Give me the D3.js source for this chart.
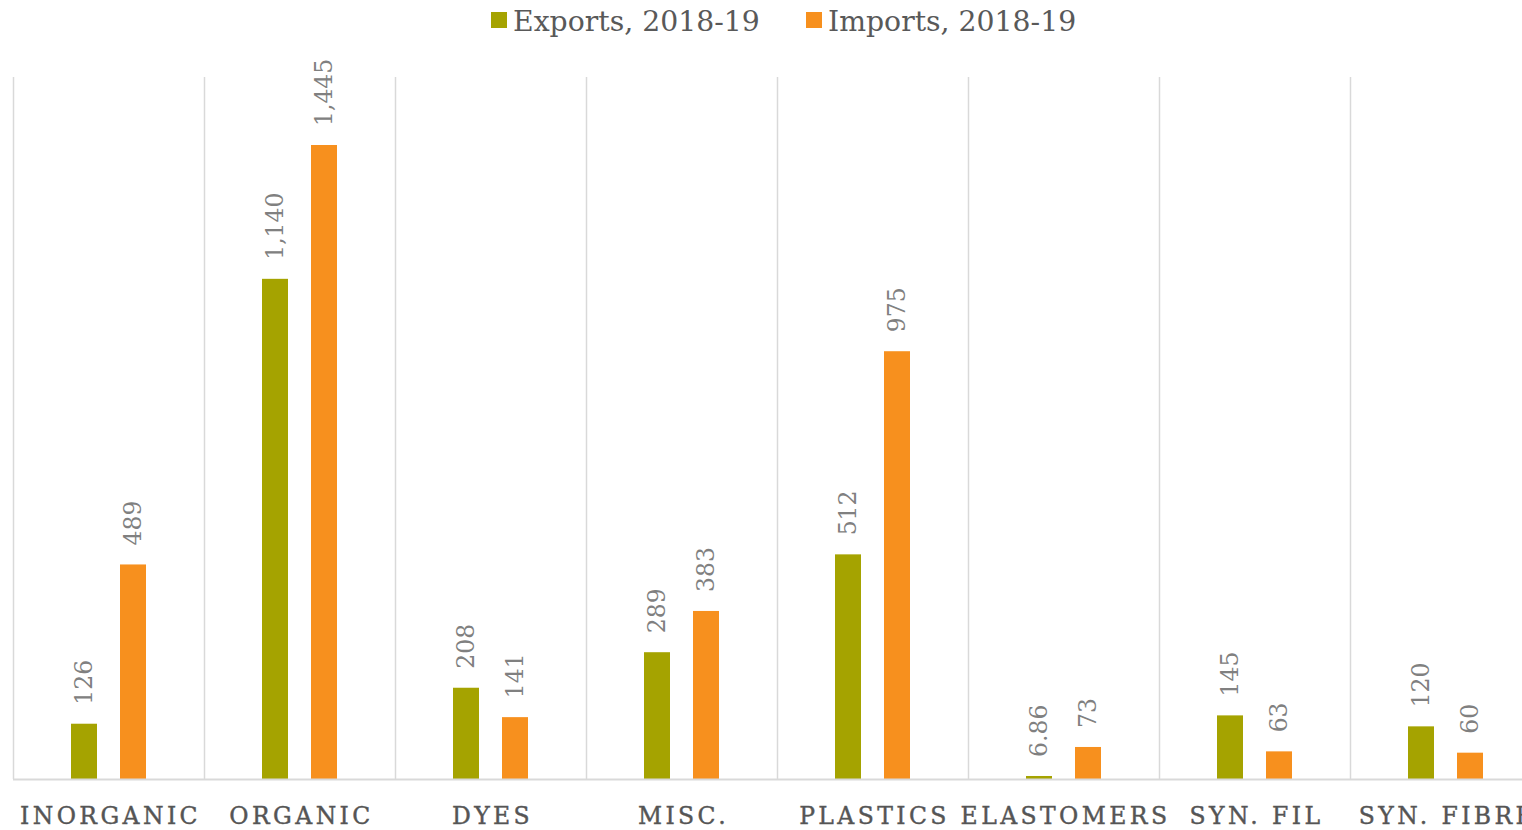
<!DOCTYPE html>
<html><head><meta charset="utf-8">
<script src="https://cdn.jsdelivr.net/npm/d3@7"></script>
<style>body{margin:0;background:#fff;overflow:hidden}svg{display:block}</style>
</head><body>
<svg id="c" width="1522" height="830"></svg>
<script>
const categories = ["INORGANIC","ORGANIC","DYES","MISC.","PLASTICS","ELASTOMERS","SYN. FIL","SYN. FIBRE"];
const seriesNames = ["Exports, 2018-19","Imports, 2018-19"];
const exportsVals = [126,1140,208,289,512,6.86,145,120];
const importsVals = [489,1445,141,383,975,73,63,60];
const exportLabels = ["126","1,140","208","289","512","6.86","145","120"];
const importLabels = ["489","1,445","141","383","975","73","63","60"];
const colors = ["#A5A300","#F7901E"];
const yMax = 1600;

const svg = d3.select("#c");
const font = "'DejaVu Serif', 'Liberation Serif', serif";
const x0 = d3.scaleBand().domain(categories).range([13, 13 + 8*191]).padding(0);
const x1 = d3.scaleBand().domain(seriesNames).range([58, 133]).paddingInner(0.4694).paddingOuter(0);
const y = d3.scaleLinear().domain([0, yMax]).range([779, 77]);

// vertical gridlines at category boundaries
svg.append("g").selectAll("line").data(categories.concat(["_end"])).join("line")
  .attr("x1",(d,i)=>13+i*x0.step()+0.5).attr("x2",(d,i)=>13+i*x0.step()+0.5)
  .attr("y1",y(yMax)).attr("y2",y(0))
  .attr("stroke","#D9D9D9").attr("stroke-width",1.5);

const seriesData = [exportsVals, importsVals];
const seriesLabels = [exportLabels, importLabels];
seriesNames.forEach((s, si) => {
  const g = svg.append("g");
  g.selectAll("rect").data(categories).join("rect")
    .attr("x", d => x0(d) + x1(s))
    .attr("width", x1.bandwidth())
    .attr("y", (d,i) => y(seriesData[si][i]))
    .attr("height", (d,i) => y(0) - y(seriesData[si][i]))
    .attr("fill", colors[si]);
  g.selectAll("text").data(categories).join("text")
    .attr("transform", (d,i) => `translate(${x0(d)+x1(s)+x1.bandwidth()/2+8},${y(seriesData[si][i]) - 19}) rotate(-90)`)
    .attr("text-anchor","start")
    .attr("font-family", font).attr("font-size", 23.5)
    .attr("fill","#808080")
    .text((d,i)=>seriesLabels[si][i]);
});

// baseline
svg.append("line").attr("x1",13).attr("x2",1522).attr("y1",y(0)+0.5).attr("y2",y(0)+0.5)
  .attr("stroke","#D9D9D9").attr("stroke-width",2);

// category labels
svg.append("g").selectAll("text").data(categories).join("text")
  .attr("x", d => x0(d) + x0.bandwidth()/2 + 2)
  .attr("y", 824)
  .attr("text-anchor","middle")
  .attr("font-family", font).attr("font-size", 23.5)
  .attr("letter-spacing", 3.4)
  .attr("fill","#555555")
  .attr("stroke","#555555").attr("stroke-width",0.4)
  .text(d=>d);

// legend
const legendX = [491, 806];
seriesNames.forEach((s, si) => {
  svg.append("rect").attr("x", legendX[si]).attr("y", 12).attr("width", 16).attr("height", 16).attr("fill", colors[si]);
  svg.append("text").attr("x", legendX[si]+22).attr("y", 31)
    .attr("font-family", font).attr("font-size", 28.3).attr("fill","#595959")
    .text(s);
});
</script>
</body></html>
